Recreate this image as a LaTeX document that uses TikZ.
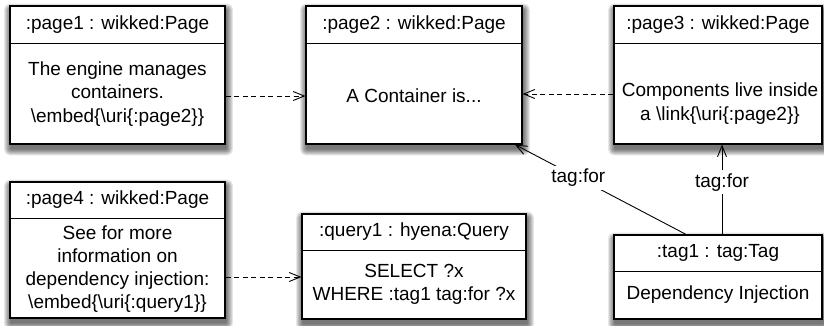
\documentclass[tikz,border=0pt]{standalone}
\usepackage{fontspec}
\setmainfont{Liberation Sans}
\usetikzlibrary{arrows.meta,backgrounds}
\newcommand{\bs}{\textbackslash}
\newcommand{\mydropsh}[1]{%
  \begin{pgfonlayer}{background}
  \foreach \e in {0,1,...,7}{%
    \fill[black, opacity=0.09, rounded corners={\e*0.8pt+0.5pt}]
      ([xshift={1pt-\e*0.9pt}, yshift={-4.5pt-\e*0.9pt}]#1.south west) rectangle
      ([xshift={1pt+\e*0.9pt}, yshift={-4.5pt+\e*0.9pt}]#1.north east);
  }
  \end{pgfonlayer}}
\begin{document}
\begin{tikzpicture}[x=1pt,y=-1pt,
  box/.style={draw, line width=1.2pt, fill=white, rectangle, inner sep=0pt},
  txt/.style={font=\fontsize{19}{23.5}\selectfont, align=center, inner sep=0pt},
  sep/.style={line width=1pt},
  tipa/.style={-{Straight Barb[length=11pt,width=9pt,line width=0.9pt]}},
  dep/.style={line width=0.9pt, dash pattern=on 5pt off 3.5pt, tipa},
  assoc/.style={line width=0.9pt, tipa},
  lbl/.style={txt, fill=white, inner sep=3pt}
]
\useasboundingbox (0,0) rectangle (824,325);

% page1
\node[box, minimum width=215pt, minimum height=138pt] (p1) at (117.5,75) {};
\draw[sep] (10,43) -- (225,43);
\node[txt] (p1h) at (117.5,24.5) {:page1 : wikked:Page};
\node[txt] (p1b) at (117.5,94) {The engine manages\\containers.\\\bs embed\{\bs uri\{:page2\}\}};

% page2
\node[box, minimum width=216pt, minimum height=138pt] (p2) at (414,75) {};
\draw[sep] (306,43) -- (522,43);
\node[txt] (p2h) at (414,24.5) {:page2 : wikked:Page};
\node[txt] (p2b) at (414,96) {A Container is...};

% page3
\node[box, minimum width=208pt, minimum height=138pt] (p3) at (718,75) {};
\draw[sep] (614,43) -- (822,43);
\node[txt] (p3h) at (718,24.5) {:page3 : wikked:Page};
\node[txt] (p3b) at (720,103.5) {Components live inside\\a \bs link\{\bs uri\{:page2\}\}};

% page4
\node[box, minimum width=215pt, minimum height=136pt] (p4) at (117.5,250) {};
\draw[sep] (10,218) -- (225,218);
\node[txt] (p4h) at (117.5,200) {:page4 : wikked:Page};
\node[txt, font=\fontsize{19}{23}\selectfont] (p4b) at (117.5,269.5) {See for more\\information on\\dependency injection:\\\bs embed\{\bs uri\{:query1\}\}};

% query1
\node[box, minimum width=224pt, minimum height=105pt] (q1) at (414,266.5) {};
\draw[sep] (302,250) -- (526,250);
\node[txt] (q1h) at (414,232) {:query1 : hyena:Query};
\node[txt, font=\fontsize{19}{23}\selectfont] (q1b) at (414,284.5) {SELECT ?x\\WHERE :tag1 tag:for ?x};

% tag1
\node[box, minimum width=208pt, minimum height=84pt] (t1) at (718,277) {};
\draw[sep] (614,271) -- (822,271);
\node[txt] (t1h) at (718,253) {:tag1 : tag:Tag};
\node[txt] (t1b) at (718,295) {Dependency Injection};

% shadows
\mydropsh{p1}\mydropsh{p2}\mydropsh{p3}\mydropsh{p4}\mydropsh{q1}\mydropsh{t1}

% connectors
\coordinate (c1) at ([yshift=-21pt]p1.east);
\draw[dep] (c1) -- (p2.west |- c1);
\draw[dep] ([yshift=-19pt]p3.west) -- ([yshift=-19pt]p2.east);
\coordinate (c4) at ([yshift=-27pt]p4.east);
\draw[dep] (c4) -- (q1.west |- c4);
\draw[assoc] ([xshift=-32pt]t1.north) -- node[lbl, pos=0.63] {tag:for} ([xshift=101pt]p2.south);
\draw[assoc] ([xshift=4pt]t1.north) -- node[lbl, pos=0.58] {tag:for} ([xshift=4pt]p3.south);
\end{tikzpicture}
\end{document}
